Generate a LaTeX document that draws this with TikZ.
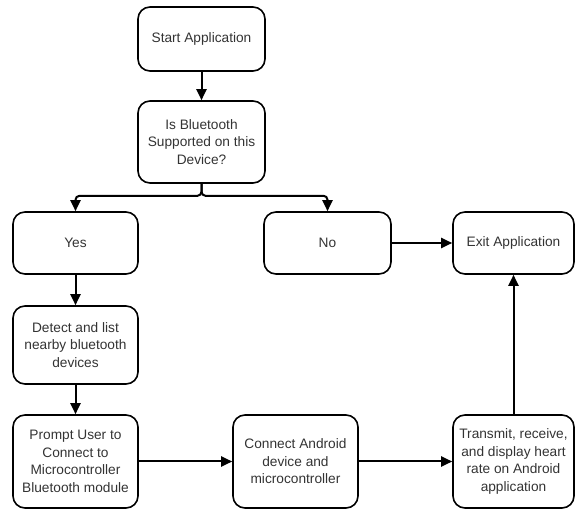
\documentclass[tikz,border=0pt]{standalone}
\usepackage{fontspec}
\setmainfont{Liberation Sans}
\usetikzlibrary{arrows.meta}
\definecolor{txt}{HTML}{333333}
\tikzset{
  box/.style={draw=black, line width=1.6pt, rounded corners=12pt, align=center,
    font=\fontsize{13.7}{17.5}\selectfont, text=txt, inner sep=0pt,
    minimum width=125pt},
  flow/.style={draw=black, line width=2pt, -{Triangle[length=11pt,width=10pt]}},
}
\begin{document}
\begin{tikzpicture}[x=1pt,y=-1pt]
\useasboundingbox (0,0) rectangle (576,510);
\node[box, minimum height=64pt, minimum width=127pt] (start) at (201.5,39) {Start Application};
\node[box, minimum height=82pt, minimum width=127pt] (bt) at (201.5,142) {Is Bluetooth\\Supported on this\\Device?};
\node[box, minimum height=62pt] (yes) at (75.5,243) {Yes};
\node[box, minimum height=62pt, minimum width=127pt] (no) at (327.5,243) {No};
\node[box, minimum height=62pt, minimum width=121pt] (exit) at (513.5,243) {Exit Application};
\node[box, minimum height=78pt] (detect) at (75.5,345) {Detect and list\\nearby bluetooth\\devices};
\node[box, minimum height=93pt] (prompt) at (75.5,461.5) {Prompt User to\\Connect to\\Microcontroller\\Bluetooth module};
\node[box, minimum height=93pt] (connect) at (295.5,461.5) {Connect Android\\device and\\microcontroller};
\node[box, minimum height=93pt, minimum width=121pt] (transmit) at (513.5,461.5) {Transmit, receive,\\and display heart\\rate on Android\\application};

\draw[flow] (start) -- (bt);
\draw[flow, rounded corners=4pt] (bt.south) -- ++(0,12) -| (yes.north);
\draw[flow, rounded corners=4pt] (bt.south) -- ++(0,12) -| (no.north);
\draw[flow] (no) -- (exit);
\draw[flow] (yes) -- (detect);
\draw[flow] (detect) -- (prompt);
\draw[flow] (prompt) -- (connect);
\draw[flow] (connect) -- (transmit);
\draw[flow] (transmit) -- (exit);
\end{tikzpicture}
\end{document}
